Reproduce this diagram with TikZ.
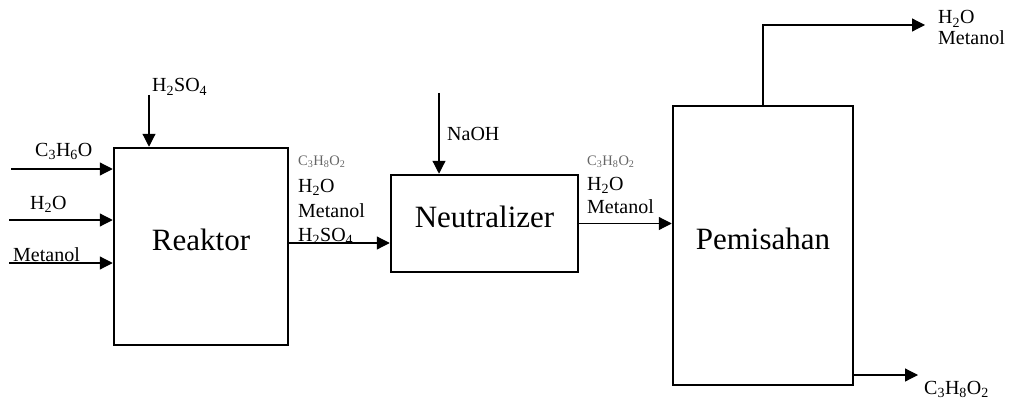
\documentclass[tikz,border=0pt]{standalone}
\usepackage{fontspec}
\setmainfont{Liberation Serif}
\usetikzlibrary{arrows.meta}

\begin{document}
\begin{tikzpicture}[x=1pt,y=-1pt]
	\tikzset{unit/.style={draw,line width=2.5pt,inner sep=0pt,text height=22pt,text depth=15pt,font=\fontsize{31}{36}\selectfont}}
	\tikzset{flow/.style={line width=1.2pt,-{Triangle[length=13pt,width=13pt]}}}
	\tikzset{stream/.style={anchor=base west,inner sep=0pt,font=\fontsize{20}{24}\selectfont}}
	\tikzset{faint/.style={stream,text=black!60,font=\fontsize{14.5}{16}\selectfont}}
	\useasboundingbox (0,0) rectangle (1019,401);
	\node[unit,minimum width=174pt,minimum height=197pt] (reaktor) at (201,246.5) {Reaktor};
	\node[unit,minimum width=187pt,minimum height=97pt] (neutralizer) at (484.5,223.5) {Neutralizer};
	\node[unit,minimum width=180pt,minimum height=279pt] (pemisahan) at (763,245.5) {Pemisahan};
	\coordinate (h2so4 in) at (149,95);
	\coordinate (c3h6o in) at (11,169);
	\coordinate (h2o in) at (9,220);
	\coordinate (metanol in) at (9,263);
	\coordinate (naoh in) at (439,93);
	\coordinate (r out) at (reaktor.east |- 0,243);
	\coordinate (vap end) at (925,25);
	\coordinate (bot end) at (918,375);
	\draw[flow] (h2so4 in) -- (h2so4 in |- reaktor.north);
	\draw[flow] (c3h6o in) -- (c3h6o in -| reaktor.west);
	\draw[flow] (h2o in) -- (h2o in -| reaktor.west);
	\draw[flow] (metanol in) -- (metanol in -| reaktor.west);
	\draw[flow] (r out) -- (r out -| neutralizer.west);
	\draw[flow] (naoh in) -- (naoh in |- neutralizer.north);
	\draw[flow] (neutralizer.east) -- (neutralizer.east -| pemisahan.west);
	\draw[flow] (pemisahan.north) -- (pemisahan.north |- vap end) -- (vap end);
	\draw[flow] (bot end -| pemisahan.east) -- (bot end);
	\node[stream] (l h2so4) at (152,92) {H\textsubscript{2}SO\textsubscript{4}};
	\node[stream] (l c3h6o) at (35,156) {C\textsubscript{3}H\textsubscript{6}O};
	\node[stream] (l h2o) at (30,209) {H\textsubscript{2}O};
	\node[stream] (l metanol) at (13,261) {Metanol};
	\node[faint] (r c3h8o2) at (298,165) {C\textsubscript{3}H\textsubscript{8}O\textsubscript{2}};
	\node[stream] (r h2o) at (298,192) {H\textsubscript{2}O};
	\node[stream] (r metanol) at (298,217) {Metanol};
	\node[stream] (r h2so4) at (298,241) {H\textsubscript{2}SO\textsubscript{4}};
	\node[stream] (l naoh) at (447,140) {NaOH};
	\node[faint] (n c3h8o2) at (587,165) {C\textsubscript{3}H\textsubscript{8}O\textsubscript{2}};
	\node[stream] (n h2o) at (587,190) {H\textsubscript{2}O};
	\node[stream] (n metanol) at (587,213) {Metanol};
	\node[stream] (top h2o) at (938,24) {H\textsubscript{2}O};
	\node[stream] (top metanol) at (938,45) {Metanol};
	\node[stream] (bot c3h8o2) at (924,394) {C\textsubscript{3}H\textsubscript{8}O\textsubscript{2}};
\end{tikzpicture}
\end{document}
